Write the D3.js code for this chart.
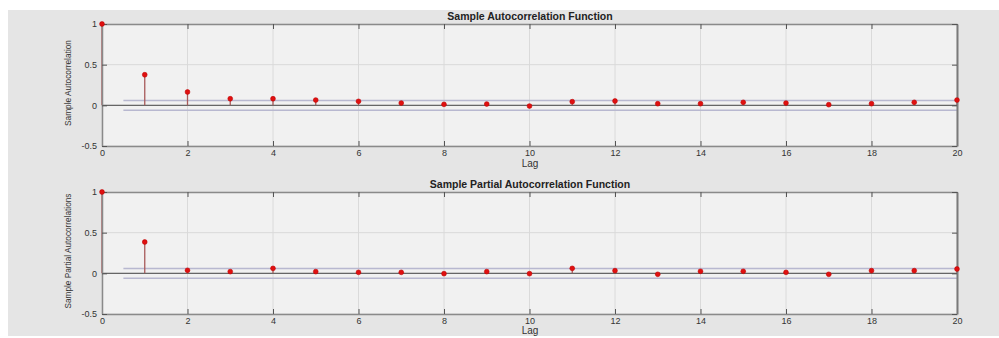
<!DOCTYPE html>
<html>
<head>
<meta charset="utf-8">
<script src="https://cdn.jsdelivr.net/npm/d3@7"></script>
<style>
  html, body { margin: 0; padding: 0; background: #fff; }
  svg { display: block; font-family: "Liberation Sans", Arial, sans-serif; }
</style>
</head>
<body>
<div id="chart"></div>
<script>
// lags 0..20
const lags = d3.range(0, 21);
const acfValues = [1, 0.376, 0.164, 0.081, 0.081, 0.065, 0.049, 0.028, 0.012, 0.016, -0.009,
  0.045, 0.053, 0.02, 0.02, 0.037, 0.028, 0.008, 0.02, 0.037, 0.065];
const pacfValues = [1, 0.385, 0.037, 0.021, 0.061, 0.021, 0.012, 0.012, -0.004, 0.021, -0.004,
  0.061, 0.033, -0.012, 0.025, 0.025, 0.012, -0.012, 0.033, 0.033, 0.053];
const confBound = 0.06;
const xTicks = [0, 2, 4, 6, 8, 10, 12, 14, 16, 18, 20];
const yTicks = [-0.5, 0, 0.5, 1];
const yTickLabels = ["-0.5", "0", "0.5", "1"];
const titles = ["Sample Autocorrelation Function", "Sample Partial Autocorrelation Function"];
const yLabels = ["Sample Autocorrelation", "Sample Partial Autocorrelations"];

const W = 999, H = 338;
const svg = d3.select("#chart").append("svg")
  .attr("width", W)
  .attr("height", H);

// figure background
svg.append("rect")
  .attr("x", 8).attr("y", 10)
  .attr("width", W - 8).attr("height", 326)
  .attr("fill", "#e5e5e5");

const x = d3.scaleLinear().domain([0, 20]).range([102, 957]);

function drawPanel(values, title, ylabel, top, bottom, labelLen, lagOffset) {
  const y = d3.scaleLinear().domain([-0.5, 1]).range([bottom, top]);
  const g = svg.append("g");

  g.append("rect")
    .attr("x", x(0)).attr("y", top)
    .attr("width", x(20) - x(0)).attr("height", bottom - top)
    .attr("fill", "#f1f1f1");

  // grid
  g.append("g")
    .selectAll("line.vg")
    .data(xTicks)
    .join("line")
    .attr("x1", d => x(d)).attr("x2", d => x(d))
    .attr("y1", top).attr("y2", bottom)
    .attr("stroke", "#dadada").attr("stroke-width", 1);
  g.append("g")
    .selectAll("line.hg")
    .data(yTicks)
    .join("line")
    .attr("x1", x(0)).attr("x2", x(20))
    .attr("y1", d => y(d)).attr("y2", d => y(d))
    .attr("stroke", "#dadada").attr("stroke-width", 1);

  // confidence bounds
  [confBound, -confBound].forEach(b => {
    g.append("line")
      .attr("x1", x(0.5)).attr("x2", x(20))
      .attr("y1", y(b)).attr("y2", y(b))
      .attr("stroke", "#b8b8d0").attr("stroke-width", 1.6);
  });

  // baseline
  g.append("line")
    .attr("x1", x(0)).attr("x2", x(20))
    .attr("y1", y(0)).attr("y2", y(0))
    .attr("stroke", "#666").attr("stroke-width", 1.3);

  // stems
  g.append("g")
    .selectAll("line")
    .data(lags)
    .join("line")
    .attr("x1", d => x(d)).attr("x2", d => x(d))
    .attr("y1", y(0)).attr("y2", d => y(values[d]))
    .attr("stroke", "#a85a5a").attr("stroke-width", 1.3);

  // axes (ticks pointing inwards)
  const styleAxis = sel => {
    sel.select(".domain").attr("stroke", "#8a8a8a").attr("stroke-width", 1.5);
    sel.selectAll(".tick line").attr("stroke", "#555").attr("stroke-width", 1);
    sel.selectAll(".tick text").attr("fill", "#333").attr("font-size", 9);
  };
  g.append("g")
    .attr("transform", `translate(0,${bottom})`)
    .call(d3.axisBottom(x).tickValues(xTicks).tickSize(-5).tickSizeOuter(0).tickPadding(4))
    .call(styleAxis);
  g.append("g")
    .attr("transform", `translate(0,${top})`)
    .call(d3.axisTop(x).tickValues(xTicks).tickSize(-5).tickSizeOuter(0).tickFormat(""))
    .call(styleAxis);
  g.append("g")
    .attr("transform", `translate(${x(0)},0)`)
    .call(d3.axisLeft(y).tickValues(yTicks).tickSize(-5).tickSizeOuter(0).tickPadding(5)
      .tickFormat((d, i) => yTickLabels[i]))
    .call(styleAxis);
  g.append("g")
    .attr("transform", `translate(${x(20)},0)`)
    .call(d3.axisRight(y).tickValues(yTicks).tickSize(-5).tickSizeOuter(0).tickFormat(""))
    .call(styleAxis)
    .select(".domain").attr("stroke", "#7a7a7a").attr("stroke-width", 2);

  // markers
  g.append("g")
    .selectAll("circle")
    .data(lags)
    .join("circle")
    .attr("cx", d => x(d))
    .attr("cy", d => y(values[d]))
    .attr("r", 2.4)
    .attr("fill", "#e01010")
    .attr("stroke", "#c00000").attr("stroke-width", 0.6);

  // title
  g.append("text")
    .attr("x", 530).attr("y", top - 4)
    .attr("text-anchor", "middle")
    .attr("font-size", 10.5).attr("font-weight", "bold")
    .attr("fill", "#222")
    .text(title);

  // x label
  g.append("text")
    .attr("x", 530).attr("y", bottom + lagOffset)
    .attr("text-anchor", "middle")
    .attr("font-size", 10)
    .attr("fill", "#333")
    .text("Lag");

  // y label
  g.append("text")
    .attr("transform", `translate(71,${(top + bottom) / 2 - 2}) rotate(-90)`)
    .attr("text-anchor", "middle")
    .attr("font-size", 9)
    .attr("textLength", labelLen)
    .attr("lengthAdjust", "spacingAndGlyphs")
    .attr("fill", "#333")
    .text(ylabel);
}

drawPanel(acfValues, titles[0], yLabels[0], 24, 146, 86, 21);
drawPanel(pacfValues, titles[1], yLabels[1], 192, 314, 115, 20);
</script>
</body>
</html>
